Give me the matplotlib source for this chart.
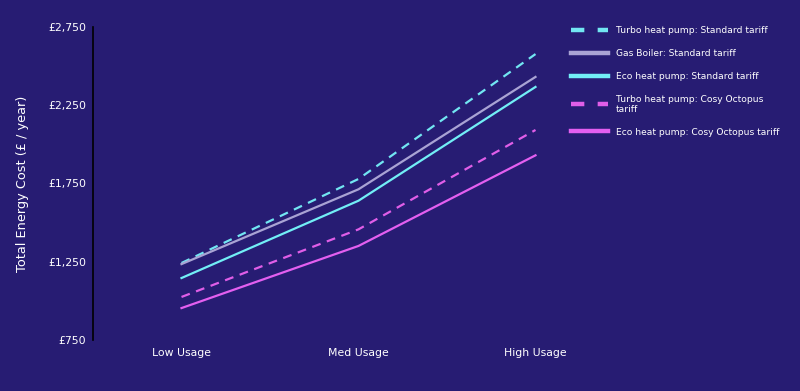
import matplotlib
matplotlib.use("Agg")
import matplotlib.pyplot as plt
from matplotlib.lines import Line2D
from matplotlib.ticker import FuncFormatter

categories = ["Low Usage", "Med Usage", "High Usage"]
series_names = [
    "Turbo heat pump: Standard tariff",
    "Gas Boiler: Standard tariff",
    "Eco heat pump: Standard tariff",
    "Turbo heat pump: Cosy Octopus\ntariff",
    "Eco heat pump: Cosy Octopus tariff",
]
turbo_standard = [1242, 1779, 2577]
gas_standard = [1235, 1713, 2431]
eco_standard = [1146, 1640, 2367]
turbo_cosy = [1025, 1457, 2092]
eco_cosy = [954, 1351, 1930]
y_ticks = [750, 1250, 1750, 2250, 2750]

values = [turbo_standard, gas_standard, eco_standard, turbo_cosy, eco_cosy]
colors = ["#72e6f2", "#a9a3d4", "#72eef6", "#e05ee8", "#e35ff0"]
dashed = [True, False, False, True, False]

bg = "#271c73"
fig = plt.figure(figsize=(8, 3.91), dpi=100, facecolor=bg)
ax = fig.add_axes([93/800, 1-340/391, (624-93)/800, (340-27)/391])
ax.set_facecolor(bg)

x = list(range(len(categories)))
handles = []
for vals, c, d, name in zip(values, colors, dashed, series_names):
    ls = (0, (4, 3)) if d else "-"
    ax.plot(x, vals, color=c, lw=1.6, linestyle=ls)
    handles.append(Line2D([0], [0], color=c, lw=3.2,
                          linestyle=(0, (3, 3)) if d else "-", label=name))

ax.set_xlim(-0.5, 2.5)
ax.set_ylim(750, 2750)
ax.set_xticks(x)
ax.set_xticklabels(categories)
ax.set_yticks(y_ticks)
ax.yaxis.set_major_formatter(FuncFormatter(lambda v, p: f"£{int(v):,}"))
ax.tick_params(axis="both", length=0, colors="white", labelsize=7.8)
ax.tick_params(axis="x", pad=6)
ax.tick_params(axis="y", pad=5)
for s in ["top", "right", "bottom"]:
    ax.spines[s].set_visible(False)
ax.spines["left"].set_color("black")
ax.spines["left"].set_linewidth(1.2)
ax.set_ylabel("Total Energy Cost (£ / year)", color="white", fontsize=9.3, labelpad=14)

leg = fig.legend(handles=handles, loc="upper left", bbox_to_anchor=(563/800, 1-18/391),
                 frameon=False, fontsize=6.6, labelcolor="white", handlelength=4.0,
                 handletextpad=0.85, labelspacing=1.5)

fig.savefig("out.png", dpi=100, facecolor=bg)
